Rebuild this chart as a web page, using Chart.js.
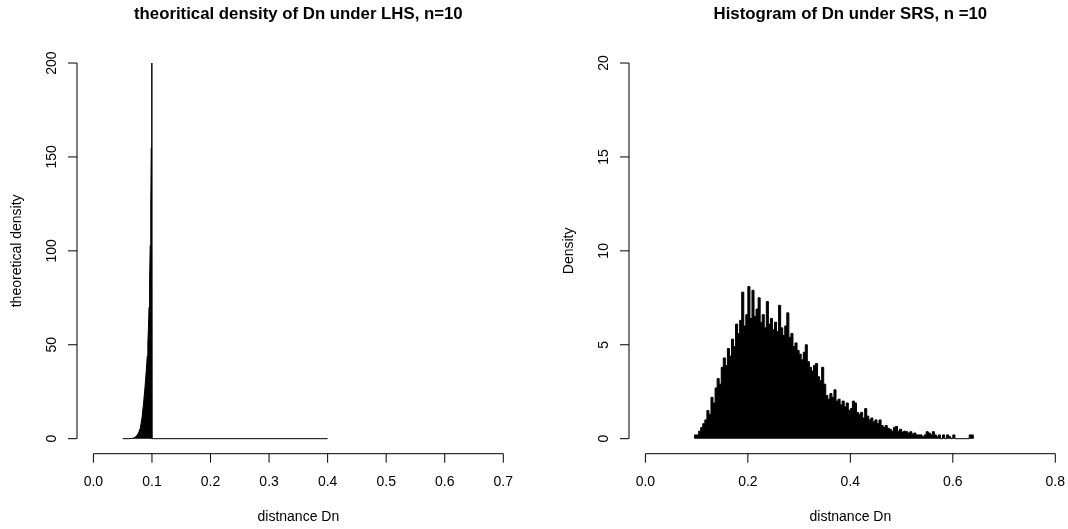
<!DOCTYPE html>
<html>
<head>
<meta charset="utf-8">
<script src="https://cdn.jsdelivr.net/npm/chart.js@4.4.0/dist/chart.umd.min.js"></script>
<style>
  html, body { margin: 0; padding: 0; background: #fff; overflow: hidden; }
  #wrap { position: relative; width: 1068px; height: 529px; overflow: hidden; }
  #left { position: absolute; left: 0; top: 0; }
  #right { position: absolute; left: 534px; top: 0; }
</style>
</head>
<body>
<div id="wrap">
  <canvas id="left" width="534" height="529"></canvas>
  <canvas id="right" width="540" height="529"></canvas>
</div>
<script>
// Panneau gauche : densité théorique (LHS)
const lhsX = [0.05, 0.06, 0.065, 0.07, 0.074, 0.077, 0.08, 0.083, 0.086, 0.088, 0.09, 0.092, 0.093, 0.094, 0.095, 0.096, 0.097, 0.098, 0.099, 0.0995, 0.1, 0.1, 0.4];
const lhsY = [0, 0, 0.1, 0.5, 1.5, 3, 5.5, 11, 20, 27, 35, 44, 51, 59, 70, 84, 103, 125, 155, 175, 200, 0, 0];
const lhsXTicks = [0, 0.1, 0.2, 0.3, 0.4, 0.5, 0.6, 0.7];
const lhsYTicks = [0, 50, 100, 150, 200];

// Panneau droit : histogramme (SRS), classes de largeur 0.004 à partir de 0.096
const srsBreakStart = 0.096;
const srsBinWidth = 0.004;
const srsDensity = [
  0.2, 0.2, 0.4, 0.6, 0.8, 1.0, 1.5, 1.3, 2.2, 1.9,
  2.7, 3.2, 2.9, 3.8, 4.3, 3.9, 4.8, 4.4, 5.3, 4.9,
  6.1, 5.6, 6.3, 7.8, 6.0, 6.6, 8.1, 6.4, 7.9, 6.5,
  6.9, 7.5, 6.2, 6.6, 5.9, 7.3, 6.1, 6.4, 5.8, 6.2,
  5.7, 7.1, 5.9, 5.5, 6.0, 6.7, 5.4, 5.6, 4.9, 5.1,
  4.7, 4.5, 4.2, 4.6, 5.0, 4.1, 3.8, 3.6, 3.9, 4.0,
  3.3, 3.1, 3.8, 2.9, 2.3, 2.1, 2.4, 2.2, 2.6, 2.0,
  2.1, 1.8, 2.0, 1.7, 1.9, 1.5, 1.6, 2.0, 1.9, 1.4,
  1.3, 1.4, 1.1, 1.6, 1.2, 1.0, 1.1, 0.9, 1.0, 0.8,
  1.0, 0.7, 0.6, 0.7, 0.55, 0.5, 0.4, 0.6, 0.65, 0.4,
  0.5, 0.35, 0.4, 0.37, 0.3, 0.37, 0.25, 0.3, 0.2, 0.2,
  0.2, 0.1, 0.2, 0.37, 0.3, 0.2, 0.37, 0.2, 0.1, 0.2,
  0, 0.2, 0, 0.2, 0.1, 0, 0.2, 0, 0, 0,
  0, 0, 0, 0, 0.2, 0.2
];
const srsXTicks = [0, 0.2, 0.4, 0.6, 0.8];
const srsYTicks = [0, 5, 10, 15, 20];

const FONT = '"Liberation Sans", Arial, Helvetica, sans-serif';

// Axes dessinés à la manière de R (axe détaché, étiquettes y tournées)
const axesR = {
  id: 'axesR',
  afterDraw(chart, args, opts) {
    const { ctx, chartArea: a, scales: { x, y } } = chart;
    ctx.save();
    ctx.strokeStyle = '#000';
    ctx.fillStyle = '#000';
    ctx.lineWidth = 1;

    // axe x
    const xs = opts.xTicks.map(v => x.getPixelForValue(v));
    ctx.beginPath();
    ctx.moveTo(xs[0], a.bottom);
    ctx.lineTo(xs[xs.length - 1], a.bottom);
    xs.forEach(px => { ctx.moveTo(px, a.bottom); ctx.lineTo(px, a.bottom + 9); });
    ctx.stroke();
    ctx.font = '14px ' + FONT;
    ctx.textAlign = 'center';
    ctx.textBaseline = 'middle';
    opts.xTicks.forEach((v, i) => ctx.fillText(v.toFixed(1), xs[i], a.bottom + 28));

    // axe y
    const ys = opts.yTicks.map(v => y.getPixelForValue(v));
    ctx.beginPath();
    ctx.moveTo(a.left, ys[0]);
    ctx.lineTo(a.left, ys[ys.length - 1]);
    ys.forEach(py => { ctx.moveTo(a.left, py); ctx.lineTo(a.left - 9, py); });
    ctx.stroke();
    opts.yTicks.forEach((v, i) => {
      ctx.save();
      ctx.translate(a.left - 25, ys[i]);
      ctx.rotate(-Math.PI / 2);
      ctx.fillText(String(v), 0, 0);
      ctx.restore();
    });

    // titres des axes
    const cx = (a.left + a.right) / 2;
    ctx.fillText(opts.xLabel, cx, a.bottom + 63);
    ctx.save();
    ctx.translate(a.left - 60, (a.top + a.bottom) / 2);
    ctx.rotate(-Math.PI / 2);
    ctx.fillText(opts.yLabel, 0, 0);
    ctx.restore();

    // titre principal
    ctx.font = 'bold 16.8px ' + FONT;
    ctx.fillText(opts.title, cx, 14);
    ctx.restore();
  }
};

function baseOptions(xmin, xmax, ymin, ymax, padding, axes) {
  return {
    responsive: false,
    animation: false,
    layout: { padding: padding },
    plugins: { legend: { display: false }, tooltip: { enabled: false }, axesR: axes },
    scales: {
      x: { type: 'linear', min: xmin, max: xmax, display: false },
      y: { type: 'linear', min: ymin, max: ymax, display: false }
    }
  };
}

new Chart(document.getElementById('left'), {
  type: 'line',
  data: {
    datasets: [{
      data: lhsX.map((v, i) => ({ x: v, y: lhsY[i] })),
      borderColor: '#000',
      backgroundColor: '#000',
      borderWidth: 1,
      fill: 'origin',
      pointRadius: 0,
      tension: 0
    }]
  },
  options: baseOptions(-0.028, 0.728, -8, 208,
    { left: 77, right: 14.3, top: 48, bottom: 75.3 },
    { xTicks: lhsXTicks, yTicks: lhsYTicks, xLabel: 'distnance Dn', yLabel: 'theoretical density',
      title: 'theoritical density of Dn under LHS, n=10' }),
  plugins: [axesR]
});

// points du contour en escalier de l'histogramme
const srsPoints = [{ x: srsBreakStart, y: 0 }];
srsDensity.forEach((d, i) => srsPoints.push({ x: srsBreakStart + i * srsBinWidth, y: d }));
srsPoints.push({ x: srsBreakStart + srsDensity.length * srsBinWidth, y: 0 });

new Chart(document.getElementById('right'), {
  type: 'line',
  data: {
    datasets: [{
      data: srsPoints,
      borderColor: '#000',
      backgroundColor: '#000',
      borderWidth: 1,
      fill: 'origin',
      stepped: true,
      pointRadius: 0
    }]
  },
  options: baseOptions(-0.032, 0.832, -0.8, 20.8,
    { left: 95, right: 2.3, top: 48, bottom: 75.3 },
    { xTicks: srsXTicks, yTicks: srsYTicks, xLabel: 'distnance Dn', yLabel: 'Density',
      title: 'Histogram of Dn under SRS, n =10' }),
  plugins: [axesR]
});
</script>
</body>
</html>
